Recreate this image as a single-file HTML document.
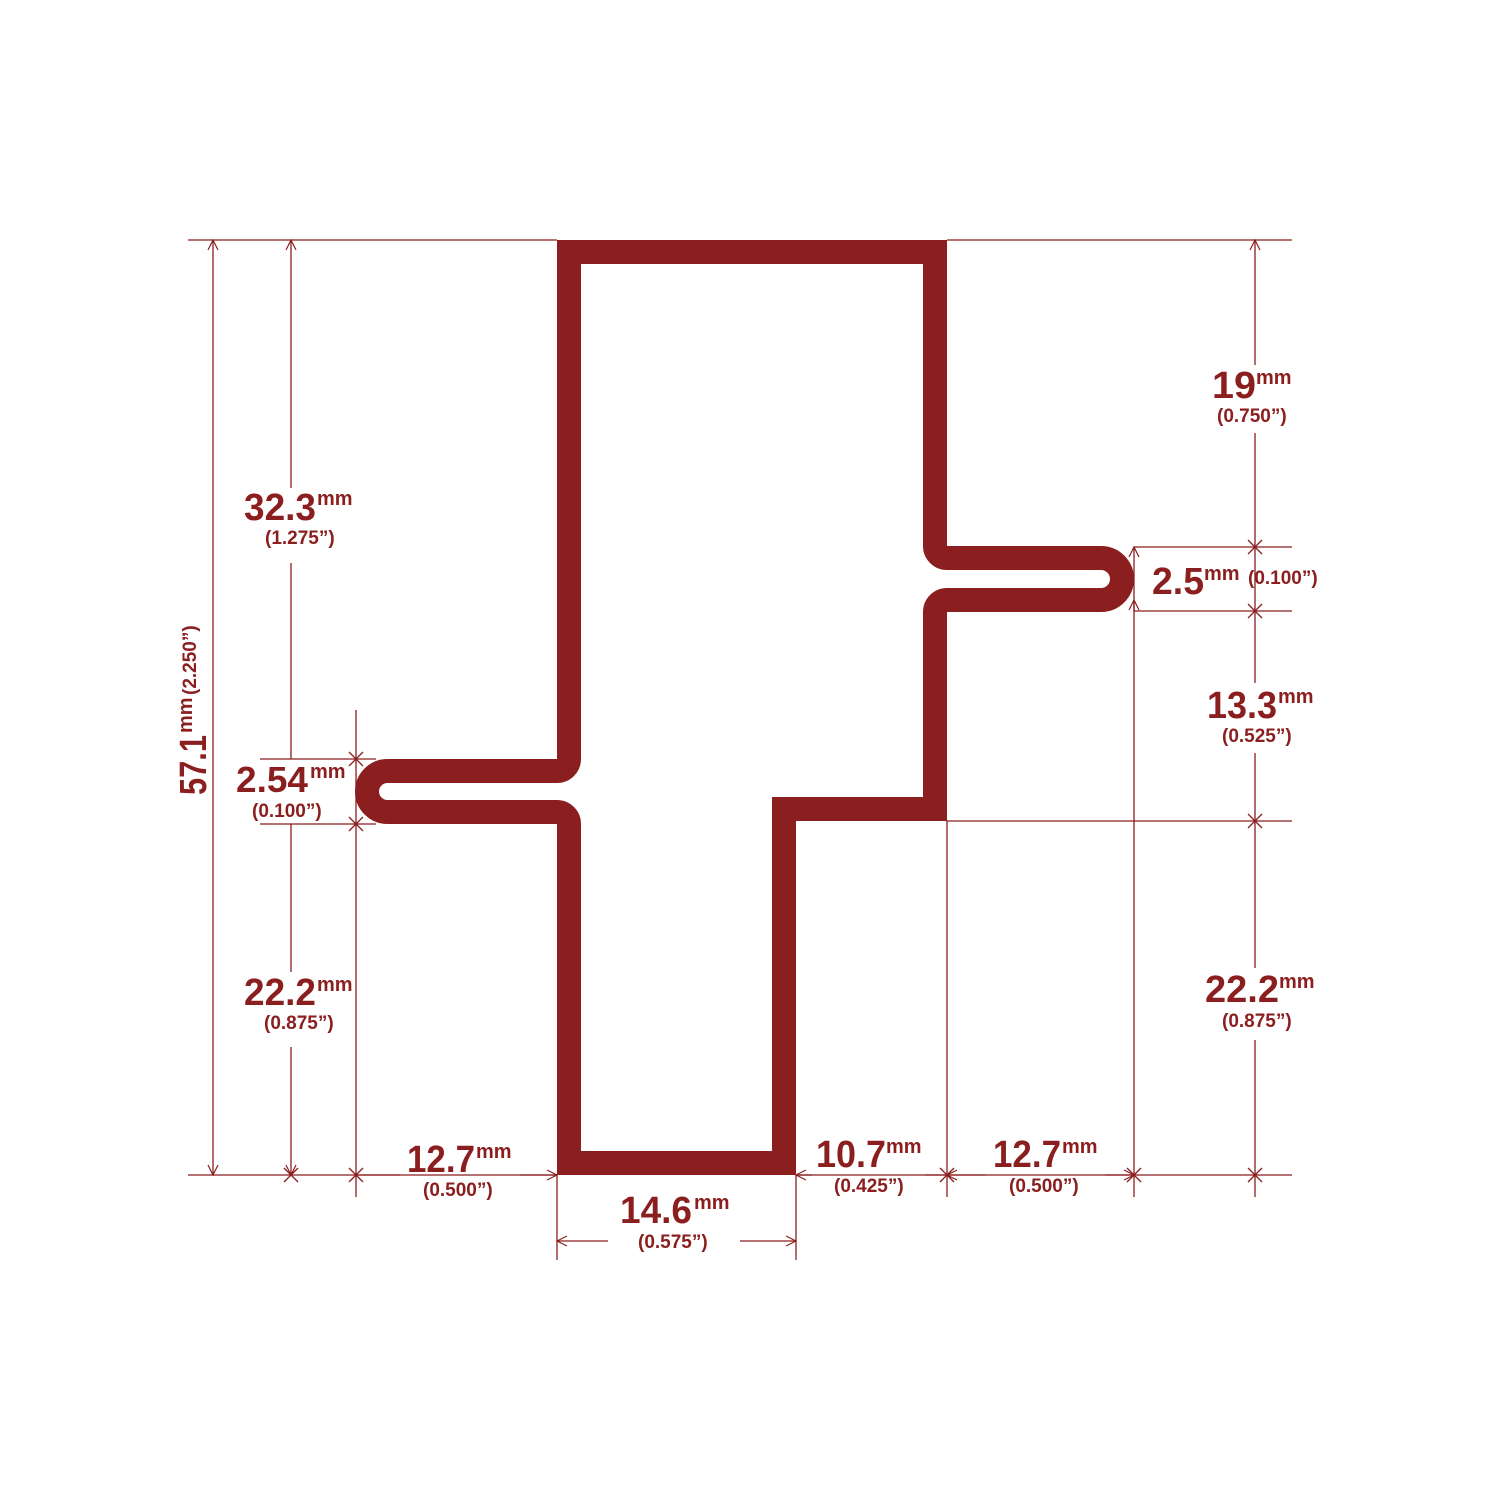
<!DOCTYPE html>
<html><head><meta charset="utf-8"><style>
html,body{margin:0;padding:0;background:#fff;width:1500px;height:1500px;overflow:hidden}
svg{display:block}
.b{font-family:"Liberation Sans",sans-serif;font-weight:bold;fill:#8B1E1E}
</style></head><body>
<svg width="1500" height="1500" viewBox="0 0 1500 1500" xmlns="http://www.w3.org/2000/svg">
<defs>
<marker id="a" viewBox="0 0 12 12" refX="11" refY="6" markerWidth="12" markerHeight="12" orient="auto-start-reverse" markerUnits="userSpaceOnUse">
<path d="M1,1 L11,6 L1,11" fill="none" stroke="#8B1E1E" stroke-width="1.2"/>
</marker>
</defs>
<g stroke="#8B1E1E" stroke-width="1.3" fill="none">
<line x1="188" y1="240" x2="557" y2="240"/>
<line x1="947" y1="240" x2="1292" y2="240"/>
<line x1="188" y1="1175" x2="557" y2="1175"/>
<line x1="796" y1="1175" x2="1292" y2="1175"/>
<line x1="1134" y1="547" x2="1292" y2="547"/>
<line x1="1134" y1="611" x2="1292" y2="611"/>
<line x1="947" y1="821" x2="1292" y2="821"/>
<line x1="260" y1="759" x2="376" y2="759"/>
<line x1="260" y1="824" x2="376" y2="824"/>
<line x1="213" y1="240" x2="213" y2="1175" marker-start="url(#a)" marker-end="url(#a)"/>
<line x1="291" y1="240" x2="291" y2="488" marker-start="url(#a)"/>
<line x1="291" y1="563" x2="291" y2="759"/>
<line x1="291" y1="824" x2="291" y2="972"/>
<line x1="291" y1="1047" x2="291" y2="1175" marker-end="url(#a)"/>
<line x1="356" y1="710" x2="356" y2="1197"/>
<line x1="1255" y1="240" x2="1255" y2="365" marker-start="url(#a)"/>
<line x1="1255" y1="433" x2="1255" y2="683"/>
<line x1="1255" y1="753" x2="1255" y2="968"/>
<line x1="1255" y1="1040" x2="1255" y2="1197"/>
<line x1="1134" y1="547" x2="1134" y2="1197" marker-start="url(#a)"/>
<line x1="1134" y1="611" x2="1134" y2="600" marker-end="url(#a)"/>
<line x1="947" y1="821" x2="947" y2="1197"/>
<line x1="557" y1="1175" x2="557" y2="1260"/>
<line x1="796" y1="1175" x2="796" y2="1260"/>
<line x1="356" y1="1175" x2="400" y2="1175"/>
<line x1="520" y1="1175" x2="557" y2="1175" marker-end="url(#a)"/>
<line x1="557" y1="1241" x2="608" y2="1241" marker-start="url(#a)"/>
<line x1="740" y1="1241" x2="796" y2="1241" marker-end="url(#a)"/>
<line x1="796" y1="1175" x2="812" y2="1175" marker-start="url(#a)"/>
<line x1="925" y1="1175" x2="947" y2="1175"/>
<line x1="947" y1="1175" x2="985" y2="1175" marker-start="url(#a)"/>
<line x1="1105" y1="1175" x2="1134" y2="1175" marker-end="url(#a)"/>
<path d="M1248,540 l14,14 M1262,540 l-14,14 M1248,604 l14,14 M1262,604 l-14,14 M1248,814 l14,14 M1262,814 l-14,14 M1248,1168 l14,14 M1262,1168 l-14,14 M349,752 l14,14 M363,752 l-14,14 M349,817 l14,14 M363,817 l-14,14 M284,1168 l14,14 M298,1168 l-14,14 M349,1168 l14,14 M363,1168 l-14,14 M940,1168 l14,14 M954,1168 l-14,14 M1127,1168 l14,14 M1141,1168 l-14,14"/>
</g>
<path d="M569,252 L935,252 L935,546 A12,12 0 0 0 947,558 L1101,558 A21,21 0 0 1 1101,600 L947,600 A12,12 0 0 0 935,612 L935,809 L784,809 L784,1163 L569,1163 L569,824 A12,12 0 0 0 557,812 L387.5,812 A20.5,20.5 0 0 1 387.5,771 L557,771 A12,12 0 0 0 569,759 Z" fill="none" stroke="#8B1E1E" stroke-width="24" stroke-linejoin="miter"/>
<g class="b">
<text x="244" y="520" font-size="38" textLength="72" lengthAdjust="spacingAndGlyphs">32.3</text><text x="317" y="505" font-size="20">mm</text>
<text x="265" y="544" font-size="19">(1.275”)</text>
<text x="236" y="792" font-size="36" textLength="72" lengthAdjust="spacingAndGlyphs">2.54</text><text x="310" y="778" font-size="20">mm</text>
<text x="252" y="817" font-size="19">(0.100”)</text>
<text x="244" y="1005" font-size="38" textLength="72" lengthAdjust="spacingAndGlyphs">22.2</text><text x="317" y="991" font-size="20">mm</text>
<text x="264" y="1029" font-size="19">(0.875”)</text>
<text x="407" y="1172" font-size="38" textLength="68" lengthAdjust="spacingAndGlyphs">12.7</text><text x="476" y="1158" font-size="20">mm</text>
<text x="423" y="1196" font-size="19">(0.500”)</text>
<text x="620" y="1223" font-size="38" textLength="72" lengthAdjust="spacingAndGlyphs">14.6</text><text x="694" y="1209" font-size="20">mm</text>
<text x="638" y="1248" font-size="19">(0.575”)</text>
<text x="816" y="1167" font-size="38" textLength="70" lengthAdjust="spacingAndGlyphs">10.7</text><text x="886" y="1153" font-size="20">mm</text>
<text x="834" y="1192" font-size="19">(0.425”)</text>
<text x="993" y="1167" font-size="38" textLength="68" lengthAdjust="spacingAndGlyphs">12.7</text><text x="1062" y="1153" font-size="20">mm</text>
<text x="1009" y="1192" font-size="19">(0.500”)</text>
<text x="1212" y="398" font-size="38" textLength="44" lengthAdjust="spacingAndGlyphs">19</text><text x="1256" y="384" font-size="20">mm</text>
<text x="1217" y="422" font-size="19">(0.750”)</text>
<text x="1152" y="594" font-size="38" textLength="52" lengthAdjust="spacingAndGlyphs">2.5</text><text x="1204" y="580" font-size="20">mm</text>
<text x="1248" y="584" font-size="19">(0.100”)</text>
<text x="1207" y="718" font-size="38" textLength="70" lengthAdjust="spacingAndGlyphs">13.3</text><text x="1278" y="703" font-size="20">mm</text>
<text x="1222" y="742" font-size="19">(0.525”)</text>
<text x="1205" y="1002" font-size="38" textLength="74" lengthAdjust="spacingAndGlyphs">22.2</text><text x="1279" y="988" font-size="20">mm</text>
<text x="1222" y="1027" font-size="19">(0.875”)</text>
<g transform="translate(206,795) rotate(-90)">
<text x="0" y="0" font-size="38" textLength="60" lengthAdjust="spacingAndGlyphs">57.1</text><text x="62" y="-14" font-size="20">mm</text>
<text x="100" y="-10" font-size="19">(2.250”)</text>
</g>
</g>
</svg>
</body></html>
